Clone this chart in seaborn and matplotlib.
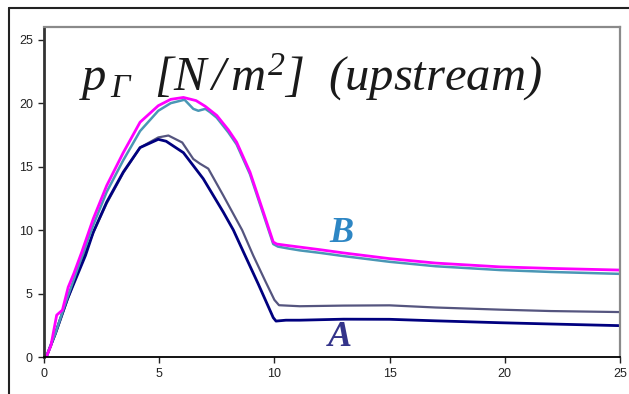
import numpy as np
import pandas as pd
import matplotlib
matplotlib.use("Agg")
import matplotlib.pyplot as plt
from matplotlib.lines import Line2D
import seaborn as sns

# upper curve of group B (magenta)
b1_x = [0.1, 0.3, 0.55, 0.8, 1.05, 1.3, 1.64, 2.14, 2.72, 3.44, 4.17, 4.96, 5.5, 6.05, 6.6, 7.0,
        7.5, 8.0, 8.36, 8.94, 9.52, 9.95, 10.1, 10.5, 11.1, 12, 13, 15, 17, 19.8, 22, 25]
b1_y = [0, 0.9, 3.3, 3.7, 5.5, 6.6, 8.27, 10.9, 13.5, 16.1, 18.5, 19.8, 20.3, 20.45, 20.2, 19.75,
        19.03, 17.9, 16.93, 14.57, 11.42, 9.06, 8.9, 8.8, 8.66, 8.45, 8.2, 7.75, 7.4, 7.1, 6.98, 6.85]

# lower curve of group B (teal)
b2_x = [0.1, 0.5, 1.0, 1.64, 2.14, 2.72, 3.44, 4.17, 4.96, 5.5, 6.1, 6.48, 6.7, 7.0, 7.2, 7.5,
        8.0, 8.36, 8.94, 9.52, 9.95, 10.15, 10.6, 11.1, 12, 13, 15, 17, 19.8, 22, 25]
b2_y = [0, 1.9, 4.6, 7.9, 10.4, 13.0, 15.5, 17.8, 19.4, 20.0, 20.27, 19.55, 19.4, 19.55, 19.3, 18.85,
        17.7, 16.75, 14.4, 11.25, 8.9, 8.7, 8.55, 8.4, 8.2, 7.95, 7.5, 7.15, 6.85, 6.7, 6.55]

# upper curve of group A (grey-violet)
a2_x = [0.1, 0.5, 1.0, 1.64, 2.14, 2.72, 3.44, 4.17, 4.96, 5.4, 6.0, 6.48, 6.77, 7.13, 7.78, 8.6,
        9.08, 9.6, 10.0, 10.2, 11.1, 13, 15, 17, 19.8, 22, 25]
a2_y = [0, 1.8, 4.4, 7.6, 9.8, 12.1, 14.5, 16.5, 17.3, 17.45, 16.9, 15.6, 15.23, 14.84, 12.73, 10.0,
        8.0, 6.0, 4.5, 4.08, 4.0, 4.05, 4.07, 3.9, 3.73, 3.62, 3.54]

# lower curve of group A (navy)
a1_x = [0.1, 0.5, 1.0, 1.8, 2.14, 2.72, 3.44, 4.17, 4.96, 5.3, 6.05, 6.91, 7.78, 8.22, 8.65, 9.3,
        9.95, 10.07, 10.5, 11.1, 13, 15, 17, 19.8, 22, 25]
a1_y = [0, 1.9, 4.5, 8.0, 9.84, 12.2, 14.57, 16.5, 17.15, 17.0, 16.1, 14.05, 11.42, 10.0, 8.3, 5.75,
        3.1, 2.83, 2.9, 2.9, 2.98, 2.97, 2.85, 2.7, 2.6, 2.47]

x_ticks = [0, 5, 10, 15, 20, 25]
y_ticks = [0, 5, 10, 15, 20, 25]

sns.set_style("ticks")
plt.rcParams["font.family"] = ["Liberation Sans", "DejaVu Sans"]
plt.rcParams["mathtext.fontset"] = "custom"
plt.rcParams["mathtext.rm"] = "Liberation Serif:italic"
plt.rcParams["mathtext.it"] = "Liberation Serif:italic"

fig = plt.figure(figsize=(6.29, 3.94), dpi=100)
ax = fig.add_axes([44 / 629, 1 - 357 / 394, 576 / 629, 330 / 394])

series = [
    (a2_x, a2_y, "#55557f", 1.6),
    (a1_x, a1_y, "#00007f", 2.0),
    (b2_x, b2_y, "#4a97b5", 1.8),
    (b1_x, b1_y, "#ff00ff", 2.0),
]
for xs, ys, col, lw in series:
    df = pd.DataFrame({"x": xs, "y": ys})
    sns.lineplot(data=df, x="x", y="y", ax=ax, color=col, linewidth=lw,
                 sort=False, estimator=None)

ax.set_xlim(0, 25)
ax.set_ylim(0, 26)
ax.set_xticks(x_ticks)
ax.set_yticks(y_ticks)
ax.set_xlabel("")
ax.set_ylabel("")
ax.tick_params(axis="both", labelsize=9, length=4, width=1, colors="#222222", pad=4)

ax.spines["left"].set_color("#333333")
ax.spines["left"].set_linewidth(2.0)
ax.spines["bottom"].set_color("#000000")
ax.spines["bottom"].set_linewidth(1.3)
ax.spines["top"].set_color("#8a8a8a")
ax.spines["top"].set_linewidth(1.6)
ax.spines["right"].set_color("#8a8a8a")
ax.spines["right"].set_linewidth(1.6)

ax.text(1.5, 21.0, r"$p_{\,\Gamma}\ \ [N\,/\,m^2]\ \ (upstream)$",
        fontsize=35, color="#1a1a1a", va="baseline", ha="left")
ax.text(12.9, 9.7, "B", fontsize=26, fontweight="bold", fontstyle="italic",
        family="Liberation Serif", color="#2d86c4", ha="center", va="center")
ax.text(12.85, 1.55, "A", fontsize=26, fontweight="bold", fontstyle="italic",
        family="Liberation Serif", color="#34348a", ha="center", va="center")

# outer frame of the original picture
fig.add_artist(Line2D([9 / 629, 9 / 629], [0, 1 - 8 / 394], color="#222222", lw=1.5))
fig.add_artist(Line2D([9 / 629, 1], [1 - 8 / 394, 1 - 8 / 394], color="#222222", lw=1.5))

fig.savefig("out.png", dpi=100)
